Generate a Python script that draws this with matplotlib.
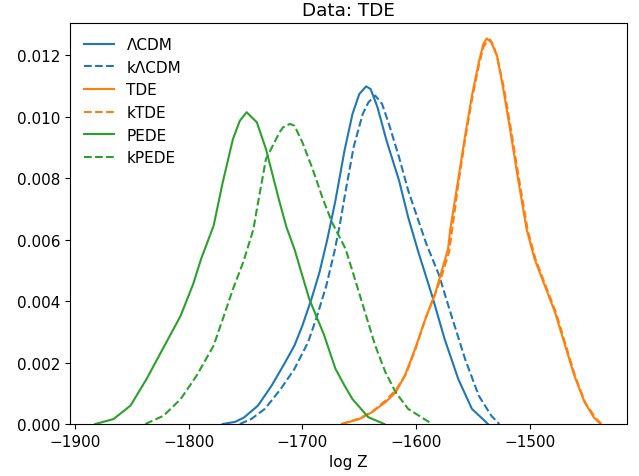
import matplotlib
matplotlib.use('Agg')
import matplotlib.pyplot as plt

plt.rcParams['font.size'] = 11

# log Z grid and density (in units of 1e-3)
lcdm_x = [-1770, -1759, -1751, -1739, -1727, -1716, -1707, -1700, -1692, -1685, -1678, -1671,
          -1663, -1656, -1650, -1644, -1640, -1634, -1626, -1615, -1607, -1598, -1586, -1575,
          -1563, -1551, -1540, -1537]
lcdm_y = [0.0, 0.07, 0.22, 0.6, 1.25, 1.95, 2.55, 3.2, 4.07, 4.93, 6.02, 7.26,
          8.89, 10.08, 10.73, 10.98, 10.89, 10.3, 9.21, 7.91, 6.72, 5.58, 4.17, 2.76,
          1.46, 0.49, 0.11, 0.0]

klcdm_x = [-1755, -1745, -1733, -1719, -1707, -1695, -1687, -1679, -1672, -1667, -1663, -1655,
           -1647, -1642, -1636, -1630, -1624, -1615, -1607, -1598, -1591, -1580, -1569, -1557,
           -1545, -1534, -1527]
klcdm_y = [0.0, 0.16, 0.49, 1.14, 1.79, 2.66, 3.52, 4.5, 5.58, 6.5, 7.37, 9.0,
           10.08, 10.46, 10.68, 10.41, 9.76, 8.67, 7.59, 6.61, 5.85, 4.85, 3.52, 2.11,
           0.92, 0.27, 0.0]

tde_x = [-1665, -1650, -1639, -1627, -1618, -1610, -1601, -1592, -1583, -1578, -1572, -1570,
         -1563, -1557, -1551, -1545, -1541, -1538, -1534, -1529, -1524, -1518, -1511, -1503,
         -1496, -1487, -1478, -1470, -1461, -1452, -1444, -1438]
tde_y = [0.0, 0.16, 0.38, 0.71, 1.03, 1.57, 2.44, 3.41, 4.28, 4.93, 5.69, 6.34,
         7.97, 9.38, 10.68, 11.76, 12.36, 12.54, 12.41, 11.98, 11.0, 9.7, 8.08, 6.34,
         5.37, 4.5, 3.63, 2.66, 1.57, 0.71, 0.22, 0.0]

ktde_x = [-1666, -1650, -1638, -1627, -1618, -1609, -1600, -1592, -1583, -1577, -1571, -1563,
          -1557, -1551, -1545, -1541, -1537, -1535, -1532, -1529, -1523, -1517, -1510, -1502,
          -1495, -1486, -1477, -1469, -1460, -1451, -1442, -1437]
ktde_y = [0.0, 0.18, 0.42, 0.76, 1.1, 1.62, 2.5, 3.42, 4.25, 4.88, 5.6, 7.8,
          9.25, 10.55, 11.65, 12.25, 12.48, 12.5, 12.3, 11.95, 10.95, 9.65, 8.05, 6.3,
          5.35, 4.48, 3.6, 2.62, 1.52, 0.66, 0.18, 0.0]

pede_x = [-1882, -1866, -1851, -1837, -1822, -1807, -1796, -1789, -1778, -1770, -1761, -1755,
          -1749, -1740, -1732, -1720, -1714, -1707, -1694, -1681, -1671, -1663, -1656, -1642,
          -1628]
pede_y = [0.0, 0.16, 0.6, 1.46, 2.49, 3.52, 4.55, 5.37, 6.45, 7.86, 9.27, 9.86,
          10.14, 9.81, 8.94, 7.21, 6.4, 5.69, 4.07, 2.9, 1.8, 1.25, 0.81, 0.22,
          0.0]

kpede_x = [-1838, -1822, -1807, -1793, -1778, -1770, -1761, -1752, -1743, -1740, -1732, -1720,
           -1717, -1711, -1707, -1700, -1691, -1682, -1674, -1662, -1653, -1644, -1636, -1627,
           -1618, -1607, -1586]
kpede_y = [0.0, 0.27, 0.81, 1.57, 2.55, 3.41, 4.39, 5.26, 6.34, 6.99, 8.62, 9.49,
           9.65, 9.76, 9.7, 9.16, 8.29, 7.32, 6.56, 5.69, 4.61, 3.52, 2.55, 1.68,
           1.03, 0.49, 0.0]

series = [
    ('ΛCDM', lcdm_x, lcdm_y, 'tab:blue', '-'),
    ('kΛCDM', klcdm_x, klcdm_y, 'tab:blue', '--'),
    ('TDE', tde_x, tde_y, 'tab:orange', '-'),
    ('kTDE', ktde_x, ktde_y, 'tab:orange', '--'),
    ('PEDE', pede_x, pede_y, 'tab:green', '-'),
    ('kPEDE', kpede_x, kpede_y, 'tab:green', '--'),
]

fig, ax = plt.subplots(figsize=(6.39, 4.77), dpi=100)
for label, xs, ys, color, ls in series:
    ax.plot(xs, [v * 1e-3 for v in ys], color=color, linestyle=ls, label=label)

ax.set_ylim(0, 0.01303)
ax.set_xlabel('log Z')
ax.set_title('Data: TDE')
ax.legend(loc='upper left', frameon=False)
fig.subplots_adjust(left=0.1095, right=0.9812, top=0.949, bottom=0.109)
fig.savefig('out.png', dpi=100)
